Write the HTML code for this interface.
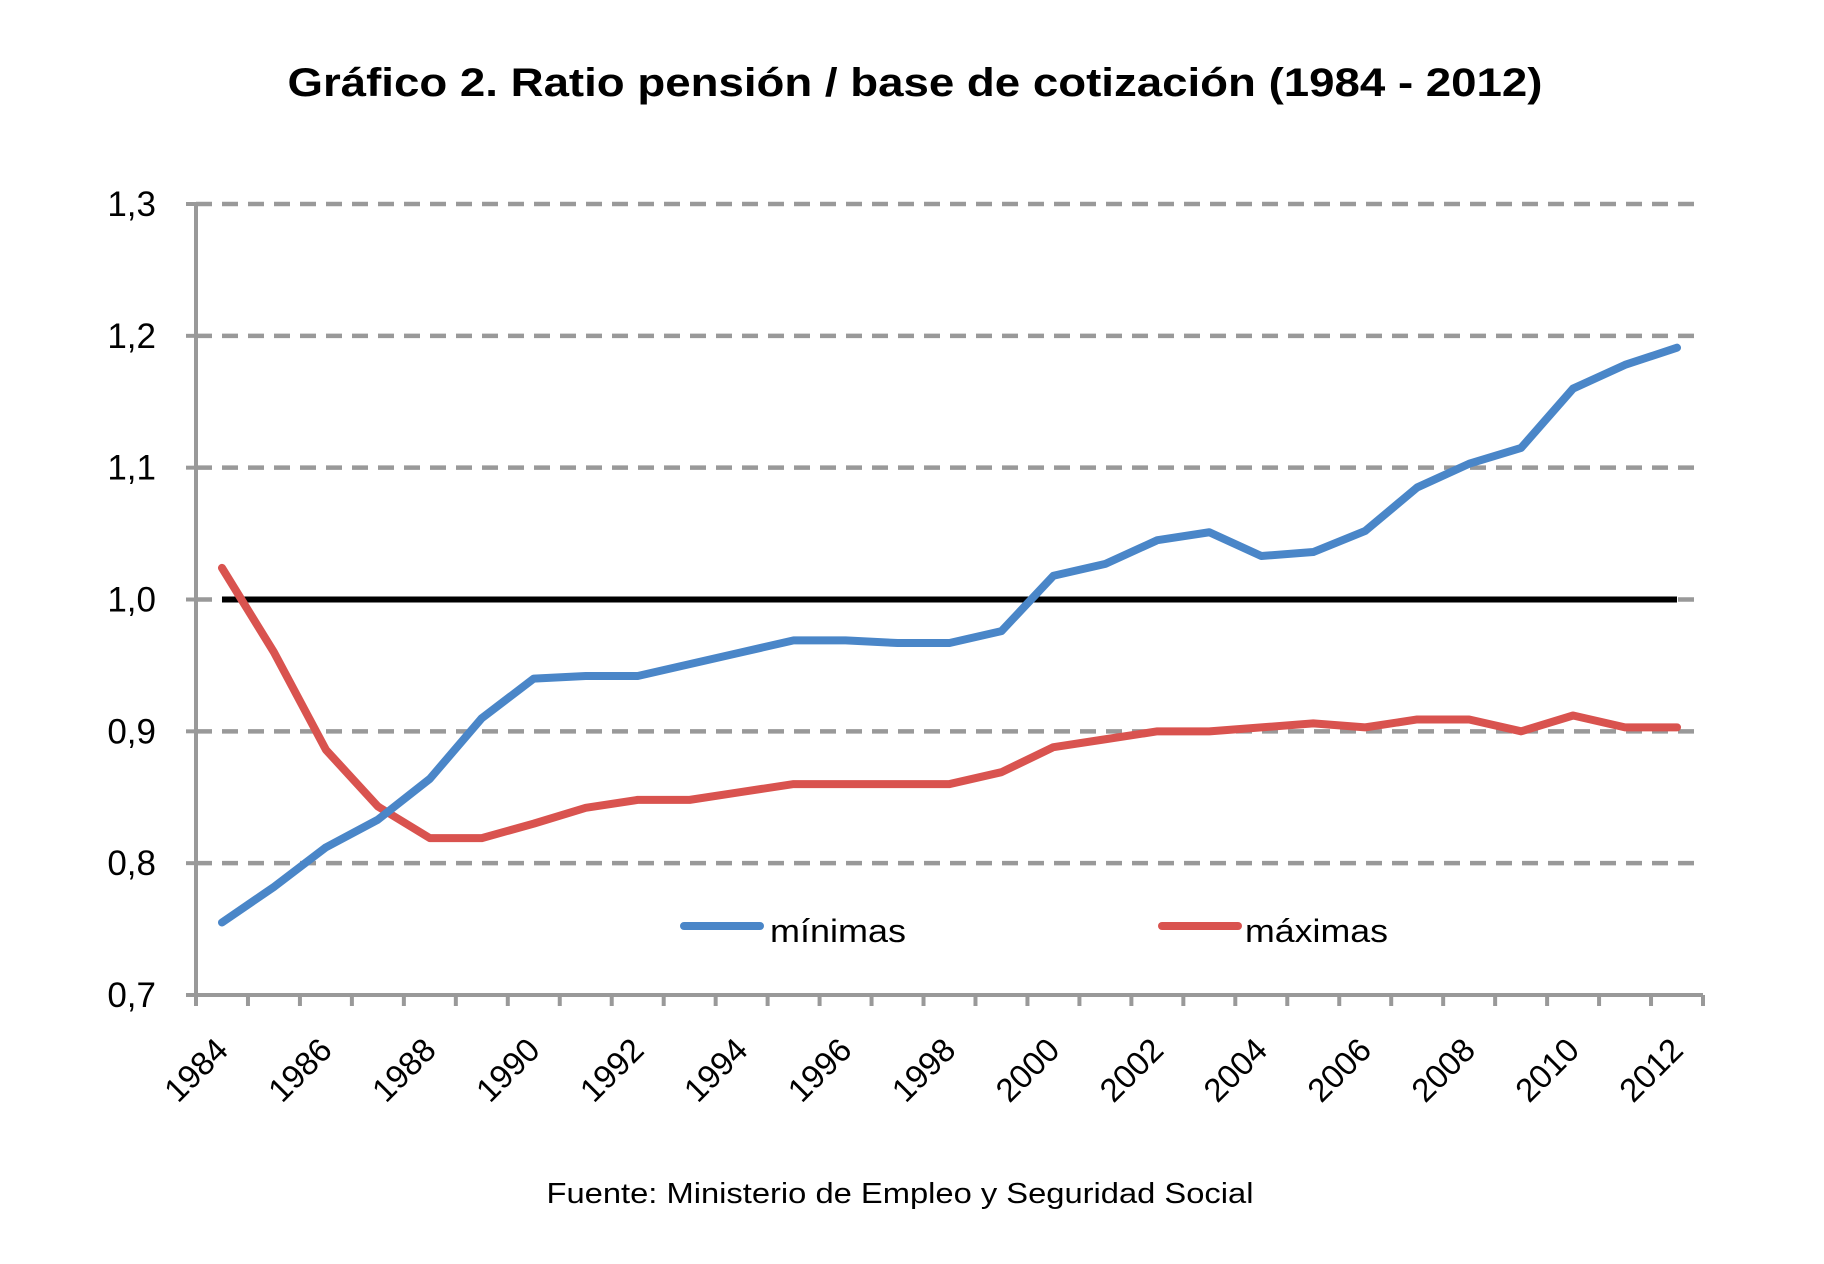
<!DOCTYPE html>
<html><head><meta charset="utf-8"><style>html,body{margin:0;padding:0;background:#fff}svg{display:block}</style></head>
<body>
<svg width="1824" height="1264" viewBox="0 0 1824 1264" xmlns="http://www.w3.org/2000/svg" font-family="'Liberation Sans', sans-serif">
<text x="915" y="96" text-anchor="middle" font-size="40" font-weight="bold" textLength="1255" lengthAdjust="spacingAndGlyphs">Gráfico 2. Ratio pensión / base de cotización (1984 - 2012)</text>
<g id="grid"></g><g id="axes"></g><g id="series"></g>
<g>
<line x1="684" y1="926" x2="760" y2="926" stroke="#4a86c8" stroke-width="8" stroke-linecap="round"/>
<text x="770" y="942" font-size="32" textLength="136" lengthAdjust="spacingAndGlyphs">mínimas</text>
<line x1="1162" y1="926" x2="1238" y2="926" stroke="#d9534f" stroke-width="8" stroke-linecap="round"/>
<text x="1245" y="942" font-size="32" textLength="143" lengthAdjust="spacingAndGlyphs">máximas</text>
</g>
<text x="900" y="1203" text-anchor="middle" font-size="29" textLength="707" lengthAdjust="spacingAndGlyphs">Fuente: Ministerio de Empleo y Seguridad Social</text>
</svg>
<script>
const years = [1984,1985,1986,1987,1988,1989,1990,1991,1992,1993,1994,1995,1996,1997,1998,1999,2000,2001,2002,2003,2004,2005,2006,2007,2008,2009,2010,2011,2012];
const minimas = [0.755,0.782,0.812,0.833,0.864,0.910,0.940,0.942,0.942,0.951,0.960,0.969,0.969,0.967,0.967,0.976,1.018,1.027,1.045,1.051,1.033,1.036,1.052,1.085,1.103,1.115,1.160,1.178,1.191];
const maximas = [1.024,0.960,0.886,0.843,0.819,0.819,0.830,0.842,0.848,0.848,0.854,0.860,0.860,0.860,0.860,0.869,0.888,0.894,0.900,0.900,0.903,0.906,0.903,0.909,0.909,0.900,0.912,0.903,0.903];
const referencia = 1.0;
const yTicks = [0.7,0.8,0.9,1.0,1.1,1.2,1.3];
const yTickLabels = ["0,7","0,8","0,9","1,0","1,1","1,2","1,3"];

const NS="http://www.w3.org/2000/svg";
const X0=196, X1=1703, Y0=995, Y1=204, VMIN=0.7, VMAX=1.3;
const step=(X1-X0)/years.length;
function xPos(i){return X0+step*(i+0.5);}
function yPos(v){return Y0-(v-VMIN)/(VMAX-VMIN)*(Y0-Y1);}
function mk(tag,attrs,parent){const e=document.createElementNS(NS,tag);for(const k in attrs)e.setAttribute(k,attrs[k]);parent.appendChild(e);return e;}
const grid=document.getElementById('grid'), axes=document.getElementById('axes'), series=document.getElementById('series');

yTicks.forEach((v,i)=>{
  const y=yPos(v);
  if(i>0){
    const g=mk('line',{x1:X0,y1:y,x2:X1,y2:y,stroke:'#999','stroke-width':4.5,'stroke-dasharray':'16 10'},grid);
    
    
  }
  const t=mk('line',{x1:X0-10,y1:y,x2:X0,y2:y,stroke:'#999','stroke-width':4},axes);
  
  
  const l=mk('text',{x:X0-40,y:y+12,'text-anchor':'end','font-size':35},axes);
  
  
  l.textContent=yTickLabels[i];
});
const ya=mk('line',{x1:X0,y1:Y1,x2:X0,y2:Y0,stroke:'#999','stroke-width':4},axes);


const xa=mk('line',{x1:X0,y1:Y0,x2:X1,y2:Y0,stroke:'#999','stroke-width':4},axes);


for(let i=0;i<=years.length;i++){
  const x=X0+step*i;
  const t=mk('line',{x1:x,y1:Y0,x2:x,y2:Y0+11,stroke:'#999','stroke-width':4},axes);
  
  
}
years.forEach((yr,i)=>{
  if(i%2) return;
  const x=xPos(i)+8, y=1052;
  const l=mk('text',{x:x,y:y,'text-anchor':'end','font-size':33,transform:`rotate(-45 ${x} ${y})`},axes);
  
  
  l.textContent=yr;
});
const ref=mk('line',{x1:xPos(0),y1:yPos(referencia),x2:xPos(years.length-1),y2:yPos(referencia),stroke:'#000','stroke-width':6},series);


function line(vals,color,name){
  const p=mk('polyline',{points:vals.map((v,i)=>xPos(i)+','+yPos(v)).join(' '),fill:'none',stroke:color,'stroke-width':8,'stroke-linejoin':'round','stroke-linecap':'round'},series);
  
  
}
line(maximas,'#d9534f','series-maximas');
line(minimas,'#4a86c8','series-minimas');
</script>
</body></html>
